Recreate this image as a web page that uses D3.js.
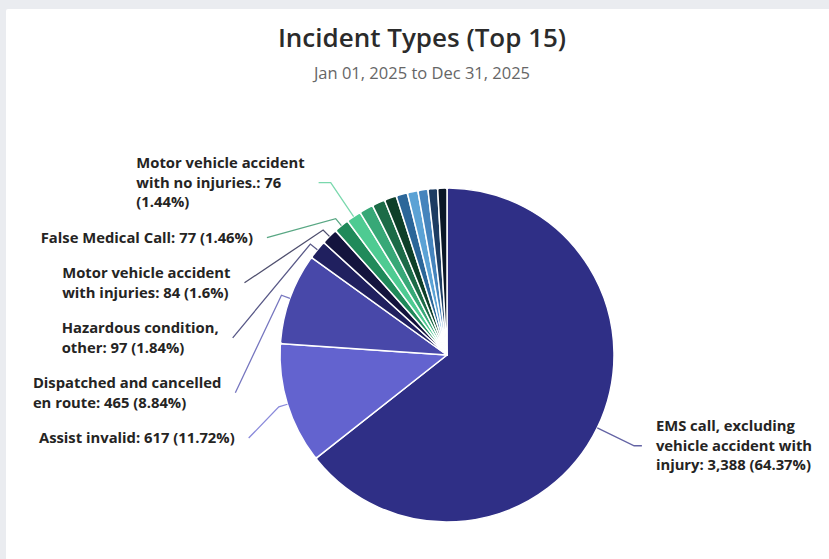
<!DOCTYPE html>
<html>
<head>
<meta charset="utf-8">
<script src="https://cdn.jsdelivr.net/npm/d3@7"></script>
<style>
  html, body { margin: 0; padding: 0; background: #eaecf0; }
  svg { display: block; }
</style>
</head>
<body>
<svg id="chart" width="829" height="559"></svg>
<script>
// ---- data: incident counts for the year, largest first ----
const chartTitle = "Incident Types (Top 15)";
const chartSubtitle = "Jan 01, 2025 to Dec 31, 2025";

const categories = [
  "EMS call, excluding vehicle accident with injury",
  "Assist invalid",
  "Dispatched and cancelled en route",
  "Hazardous condition, other",
  "Motor vehicle accident with injuries",
  "False Medical Call",
  "Motor vehicle accident with no injuries.",
  "Incident type 8",
  "Incident type 9",
  "Incident type 10",
  "Incident type 11",
  "Incident type 12",
  "Incident type 13",
  "Incident type 14",
  "Incident type 15"
];
const counts = [3388, 617, 465, 97, 84, 77, 76, 72, 66, 62, 58, 54, 51, 49, 47];

// navy, green and blue families, each base / light / medium / dark / darkest
const sliceColors = [
  "#2f2f86", "#6363cf", "#4848a9", "#20205f", "#14143d",
  "#208a5a", "#4ecb92", "#37a877", "#1c6b47", "#0e3f29",
  "#2b6699", "#5ba2d5", "#4584bd", "#1d3c62", "#0b1727"
];

// only the first seven slices carry an outside label
const labelledCount = 7;

// ---- layout ----
const W = 829, H = 559;
const cx = 447, cy = 355, r = 167;
const R_ELBOW = r + 9;    // where the leader line leaves the slice
const R_IDEAL = r + 41;   // preferred label height
const R_END = r + 48;     // leader line ends on this circle
const lineH = 19.5, blockGap = 16, textPad = 14;
const labelFont = "700 14.8px 'Open Sans', sans-serif";
const wrapWidth = {
  "Dispatched and cancelled en route": 194,
  "False Medical Call": 280,
  "Assist invalid": 280
};
const defaultWrap = 176;

const svg = d3.select("#chart");

// card
svg.append("rect")
  .attr("x", 6).attr("y", 9)
  .attr("width", W).attr("height", H)
  .attr("rx", 2)
  .attr("fill", "#ffffff");

svg.append("text")
  .attr("x", 422).attr("y", 37)
  .attr("text-anchor", "middle")
  .attr("dominant-baseline", "central")
  .style("font", "600 26px 'Open Sans', sans-serif")
  .attr("fill", "#2b2b2b")
  .text(chartTitle);

svg.append("text")
  .attr("x", 422).attr("y", 72)
  .attr("text-anchor", "middle")
  .attr("dominant-baseline", "central")
  .style("font", "400 16.5px 'Open Sans', sans-serif")
  .attr("fill", "#666666")
  .text(chartSubtitle);

const data = categories.map((name, i) => ({ name, value: counts[i], color: sliceColors[i], index: i }));
const total = d3.sum(counts);

const pie = d3.pie().sort(null).value(d => d.value).startAngle(0).endAngle(2 * Math.PI);
const arcs = pie(data);

const arc = d3.arc().innerRadius(0).outerRadius(r).cornerRadius(2);

const g = svg.append("g").attr("transform", `translate(${cx},${cy})`);
g.selectAll("path.slice")
  .data(arcs)
  .join("path")
  .attr("class", "slice")
  .attr("d", arc)
  .attr("fill", d => d.data.color)
  .attr("stroke", "#ffffff")
  .attr("stroke-width", 1.5)
  .attr("stroke-linejoin", "round");

// ---- labels ----
const fmtCount = d3.format(",");
const fmtPct = v => String(+(v * 100).toFixed(2));
const pt = (a, R) => [cx + R * Math.sin(a), cy - R * Math.cos(a)];

// measure text for wrapping
const measurer = svg.append("text").style("font", labelFont).attr("visibility", "hidden");
const textW = s => { measurer.text(s); return measurer.node().getComputedTextLength(); };

function wrap(text, maxW) {
  const words = text.split(" ");
  const lines = [];
  let cur = "";
  words.forEach(w => {
    const t = cur ? cur + " " + w : w;
    if (cur && textW(t) > maxW) { lines.push(cur); cur = w; } else { cur = t; }
  });
  if (cur) lines.push(cur);
  return lines;
}

const labels = arcs.slice(0, labelledCount).map(d => {
  const mid = (d.startAngle + d.endAngle) / 2;
  const text = `${d.data.name}: ${fmtCount(d.data.value)} (${fmtPct(d.data.value / total)}%)`;
  const lines = wrap(text, wrapWidth[d.data.name] || defaultWrap);
  const width = d3.max(lines, textW);
  return {
    d, mid, lines, width,
    side: Math.sin(mid) < 0 ? "left" : "right",
    idealY: cy - R_IDEAL * Math.cos(mid),
    h: lines.length * lineH
  };
});

// stack each side top-down so blocks never overlap
["left", "right"].forEach(side => {
  const items = labels.filter(l => l.side === side).sort((a, b) => a.idealY - b.idealY);
  let bottom = -Infinity;
  items.forEach(l => {
    l.y = Math.max(l.idealY, bottom + blockGap + l.h / 2);
    bottom = l.y + l.h / 2;
  });
});

labels.forEach(l => {
  const dy = l.y - cy;
  const dx = Math.sqrt(Math.max(0, R_END * R_END - dy * dy));
  const sgn = l.side === "left" ? -1 : 1;
  const end = [cx + sgn * dx, l.y];
  const start = pt(l.mid, r);
  // elbow: run radially to the label row when it is close, otherwise just clear the rim
  const c = -Math.cos(l.mid);
  let elbow = pt(l.mid, R_ELBOW);
  if (Math.abs(c) > 1e-6) {
    const rr = (l.y - cy) / c;
    if (rr >= R_ELBOW && rr <= r + 60) elbow = pt(l.mid, rr);
  }
  l.points = [start, elbow, end];
  l.textX = l.side === "left" ? end[0] - textPad - l.width : end[0] + textPad;
});

svg.append("g")
  .selectAll("path")
  .data(labels)
  .join("path")
  .attr("d", l => d3.line()(l.points))
  .attr("fill", "none")
  .attr("stroke", l => l.d.data.color)
  .attr("stroke-opacity", 0.75)
  .attr("stroke-width", 1.3);

const texts = svg.append("g")
  .selectAll("text")
  .data(labels)
  .join("text")
  .style("font", labelFont)
  .attr("fill", "#252423");

texts.selectAll("tspan")
  .data(l => l.lines.map((s, i) => ({ s, i, l })))
  .join("tspan")
  .attr("x", t => t.l.textX)
  .attr("y", t => t.l.y + (t.i - (t.l.lines.length - 1) / 2) * lineH)
  .attr("dy", "0.35em")
  .text(t => t.s);

measurer.remove();
</script>
</body>
</html>
